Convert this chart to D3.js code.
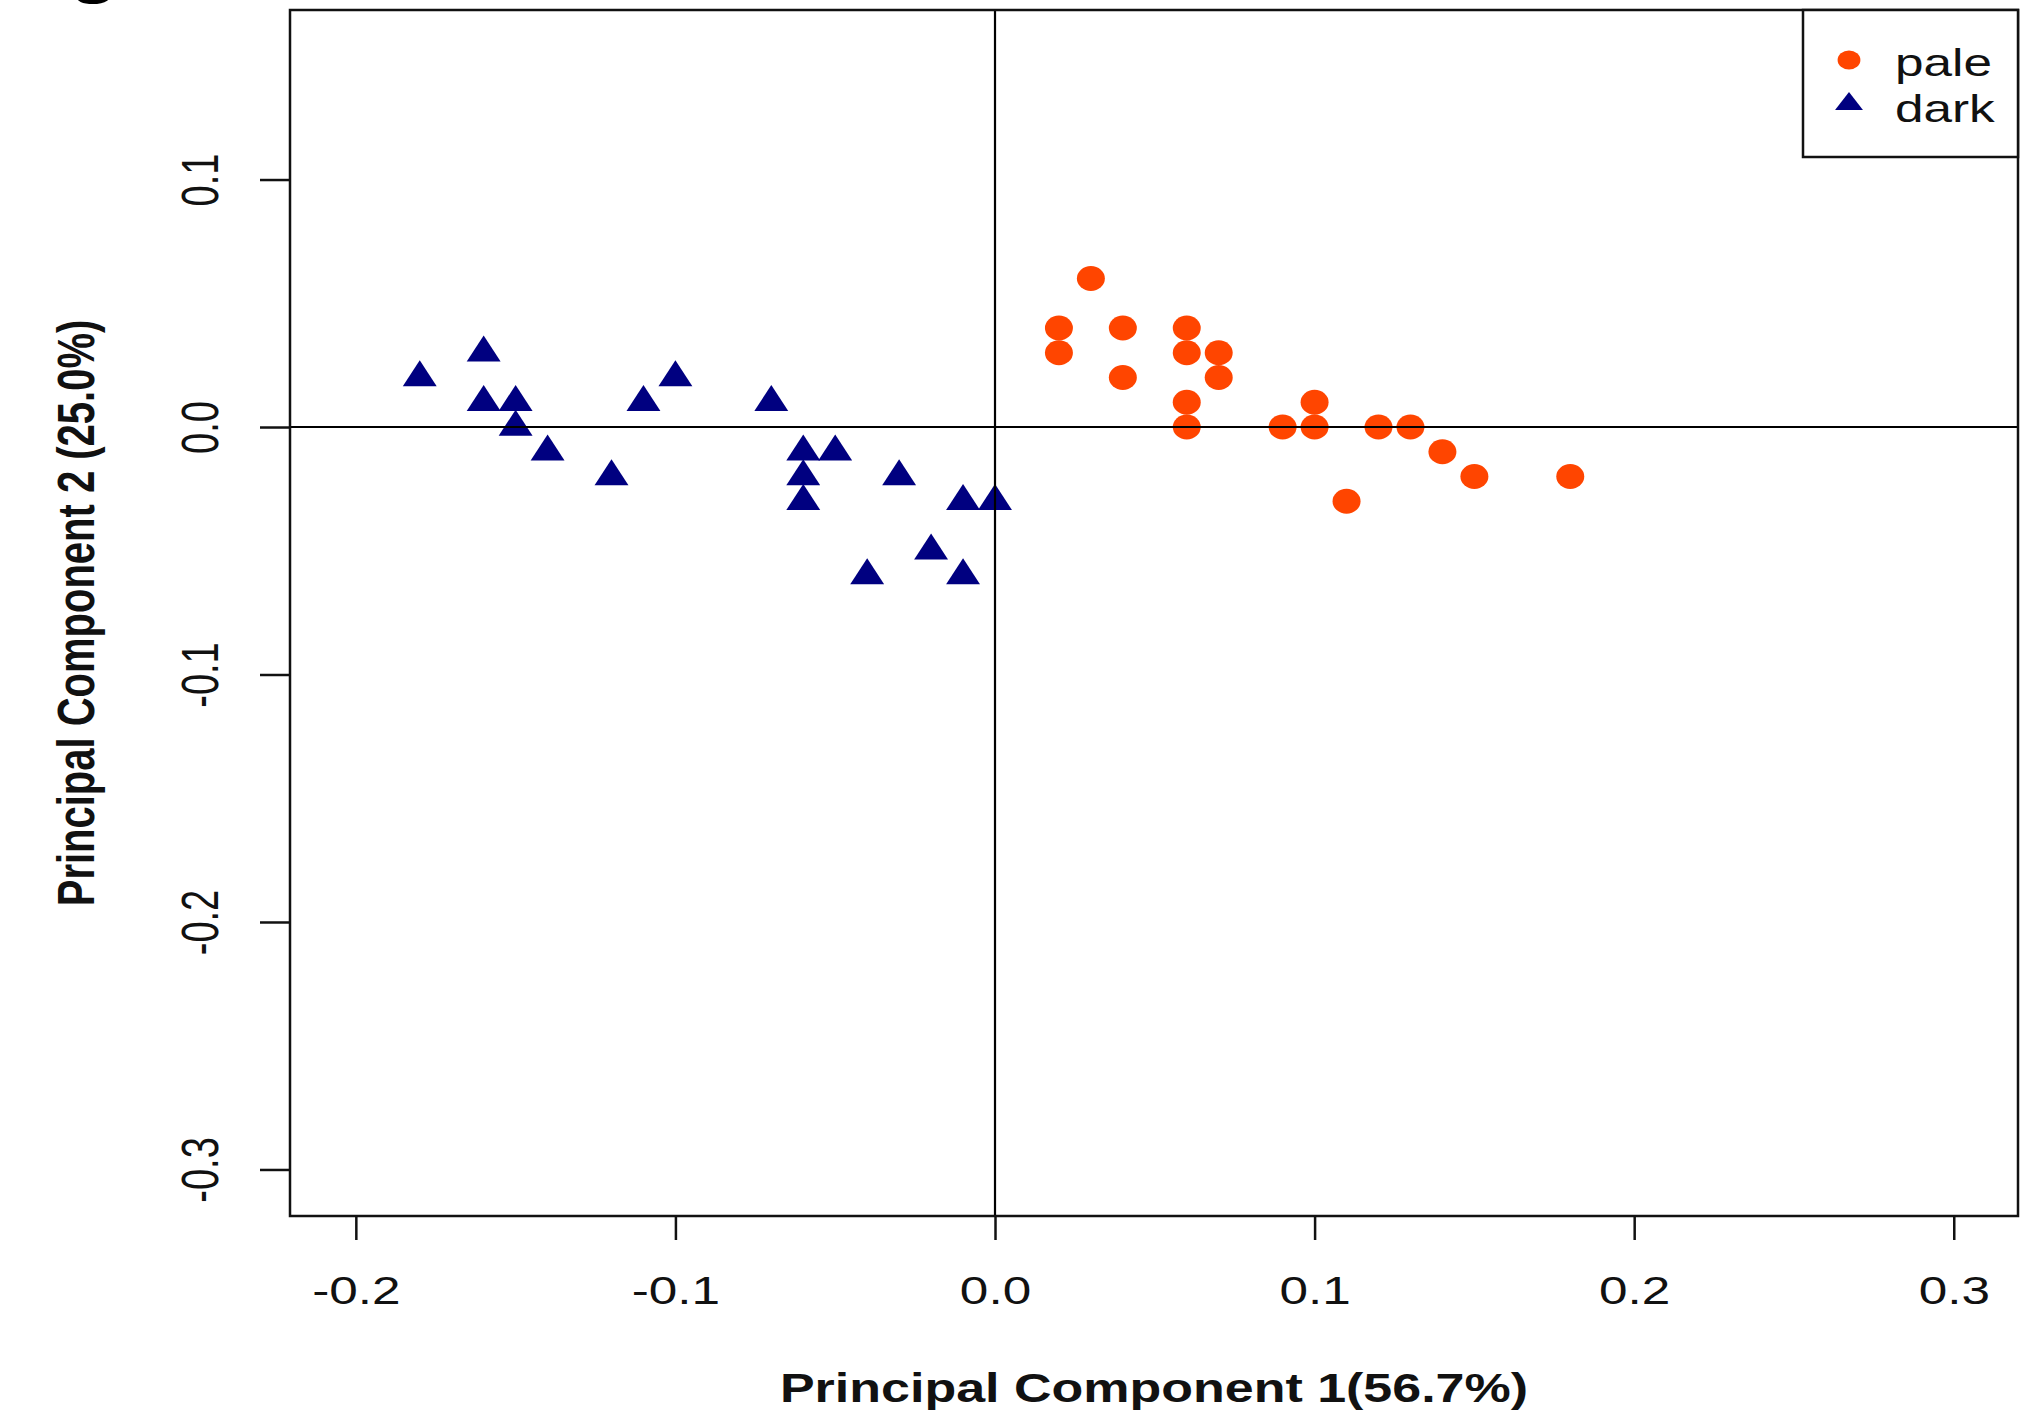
<!DOCTYPE html>
<html>
<head>
<meta charset="utf-8">
<script src="https://cdn.jsdelivr.net/npm/d3@7"></script>
<style>
  body { margin: 0; background: #fff; }
  svg text { font-family: "Liberation Sans", Arial, sans-serif; fill: #111; }
</style>
</head>
<body>
<div id="chart"></div>
<script>
const groups = ["pale", "dark"];
const colors = ["#ff4500", "#000080"];

const paleX = [0.02, 0.02, 0.03, 0.04, 0.04, 0.06, 0.06, 0.06, 0.06, 0.07, 0.07, 0.09, 0.10, 0.10, 0.11, 0.12, 0.13, 0.14, 0.15, 0.18];
const paleY = [0.04, 0.03, 0.06, 0.04, 0.02, 0.04, 0.03, 0.01, 0.00, 0.03, 0.02, 0.00, 0.01, 0.00, -0.03, 0.00, 0.00, -0.01, -0.02, -0.02];

const darkX = [-0.18, -0.16, -0.16, -0.15, -0.15, -0.14, -0.12, -0.11, -0.10, -0.07, -0.06, -0.05, -0.06, -0.06, -0.03, -0.01, 0.00, -0.04, -0.02, -0.01];
const darkY = [0.02, 0.03, 0.01, 0.01, 0.00, -0.01, -0.02, 0.01, 0.02, 0.01, -0.01, -0.01, -0.02, -0.03, -0.02, -0.03, -0.03, -0.06, -0.05, -0.06];

const xTicks = [-0.2, -0.1, 0.0, 0.1, 0.2, 0.3];
const yTicks = [0.1, 0.0, -0.1, -0.2, -0.3];
const xTitle = "Principal Component 1(56.7%)";
const yTitle = "Principal Component 2 (25.0%)";
const panelLabel = "g";

const width = 2024;
const height = 1412;
const box = { left: 290, top: 10, right: 2018, bottom: 1216 };
const sx = 1.35; // the original picture is stretched sideways

const x = d3.scaleLinear().domain([-0.2206, 0.3201]).range([box.left, box.right]);
const y = d3.scaleLinear().domain([-0.3188, 0.1685]).range([box.bottom, box.top]);
const fmt = (v) => v.toFixed(1).replace("-0.0", "0.0"); // plain hyphen like R

const svg = d3.select("#chart").append("svg")
  .attr("width", width)
  .attr("height", height);

// cut-off panel letter at the very top
svg.append("text")
  .attr("transform", "translate(70,-8) scale(1.3,1)")
  .style("font-size", "60px")
  .style("font-weight", "bold")
  .style("fill", "#000")
  .text(panelLabel);

const pale = paleX.map((v, i) => ({ x: v, y: paleY[i] }));
const dark = darkX.map((v, i) => ({ x: v, y: darkY[i] }));

const circle = d3.symbol(d3.symbolCircle, Math.PI * 12.5 * 12.5);
const triangle = d3.symbol(d3.symbolTriangle, (Math.sqrt(3) / 4) * 30 * 30);

svg.append("g")
  .selectAll("path")
  .data(pale)
  .join("path")
  .attr("d", circle)
  .attr("transform", (d) => `translate(${x(d.x)},${y(d.y)}) scale(1.12,1)`)
  .attr("fill", colors[0]);

svg.append("g")
  .selectAll("path")
  .data(dark)
  .join("path")
  .attr("d", triangle)
  .attr("transform", (d) => `translate(${x(d.x)},${y(d.y)}) scale(1.13,1)`)
  .attr("fill", colors[1]);

// zero lines
svg.append("line")
  .attr("x1", box.left).attr("x2", box.right)
  .attr("y1", y(0)).attr("y2", y(0))
  .attr("stroke", "#000").attr("stroke-width", 2.2);
svg.append("line")
  .attr("x1", x(0)).attr("x2", x(0))
  .attr("y1", box.top).attr("y2", box.bottom)
  .attr("stroke", "#000").attr("stroke-width", 2.2);

svg.append("rect")
  .attr("x", box.left).attr("y", box.top)
  .attr("width", box.right - box.left).attr("height", box.bottom - box.top)
  .attr("fill", "none").attr("stroke", "#111").attr("stroke-width", 2.5);

const xAxis = svg.append("g")
  .attr("transform", `translate(0,${box.bottom})`)
  .call(d3.axisBottom(x).tickValues(xTicks).tickSize(24).tickFormat(fmt));
xAxis.select(".domain").remove();
xAxis.selectAll(".tick line").attr("stroke", "#111").attr("stroke-width", 2.5);
xAxis.selectAll(".tick text")
  .attr("y", 88).attr("dy", null)
  .attr("transform", `scale(${sx},1)`)
  .style("font-size", "38px")
  .attr("fill", "#111");

const yAxis = svg.append("g")
  .attr("transform", `translate(${box.left},0)`)
  .call(d3.axisLeft(y).tickValues(yTicks).tickSize(30).tickFormat(fmt));
yAxis.select(".domain").remove();
yAxis.selectAll(".tick line").attr("stroke", "#111").attr("stroke-width", 2.5);
yAxis.selectAll(".tick text")
  .attr("x", 0).attr("dy", null)
  .attr("text-anchor", "middle")
  .attr("transform", `translate(-72,0) scale(${sx},1) rotate(-90)`)
  .style("font-size", "38px")
  .attr("fill", "#111");

svg.append("text")
  .attr("transform", `translate(${(box.left + box.right) / 2},1402) scale(1.3,1)`)
  .attr("text-anchor", "middle")
  .style("font-size", "40px")
  .style("font-weight", "bold")
  .text(xTitle);

svg.append("text")
  .attr("transform", `translate(94,${(box.top + box.bottom) / 2}) scale(1.3,1) rotate(-90)`)
  .attr("text-anchor", "middle")
  .style("font-size", "40px")
  .style("font-weight", "bold")
  .text(yTitle);

// legend
const legend = svg.append("g");
legend.append("rect")
  .attr("x", 1803).attr("y", box.top)
  .attr("width", box.right - 1803).attr("height", 147)
  .attr("fill", "#fff").attr("stroke", "#111").attr("stroke-width", 2.5);

const legendSymbols = [
  d3.symbol(d3.symbolCircle, Math.PI * 9.5 * 9.5),
  d3.symbol(d3.symbolTriangle, (Math.sqrt(3) / 4) * 21 * 21)
];
const legendRows = legend.selectAll("g.row")
  .data(groups)
  .join("g")
  .attr("class", "row")
  .attr("transform", (d, i) => `translate(1849,${60 + i * 46})`);

legendRows.append("path")
  .attr("d", (d, i) => legendSymbols[i]())
  .attr("transform", (d, i) => (i === 0 ? "scale(1.2,1)" : "translate(0,-2) scale(1.33,1)"))
  .attr("fill", (d, i) => colors[i]);

legendRows.append("text")
  .attr("transform", `translate(46,16) scale(${sx},1)`)
  .style("font-size", "38px")
  .text((d) => d);
</script>
</body>
</html>
